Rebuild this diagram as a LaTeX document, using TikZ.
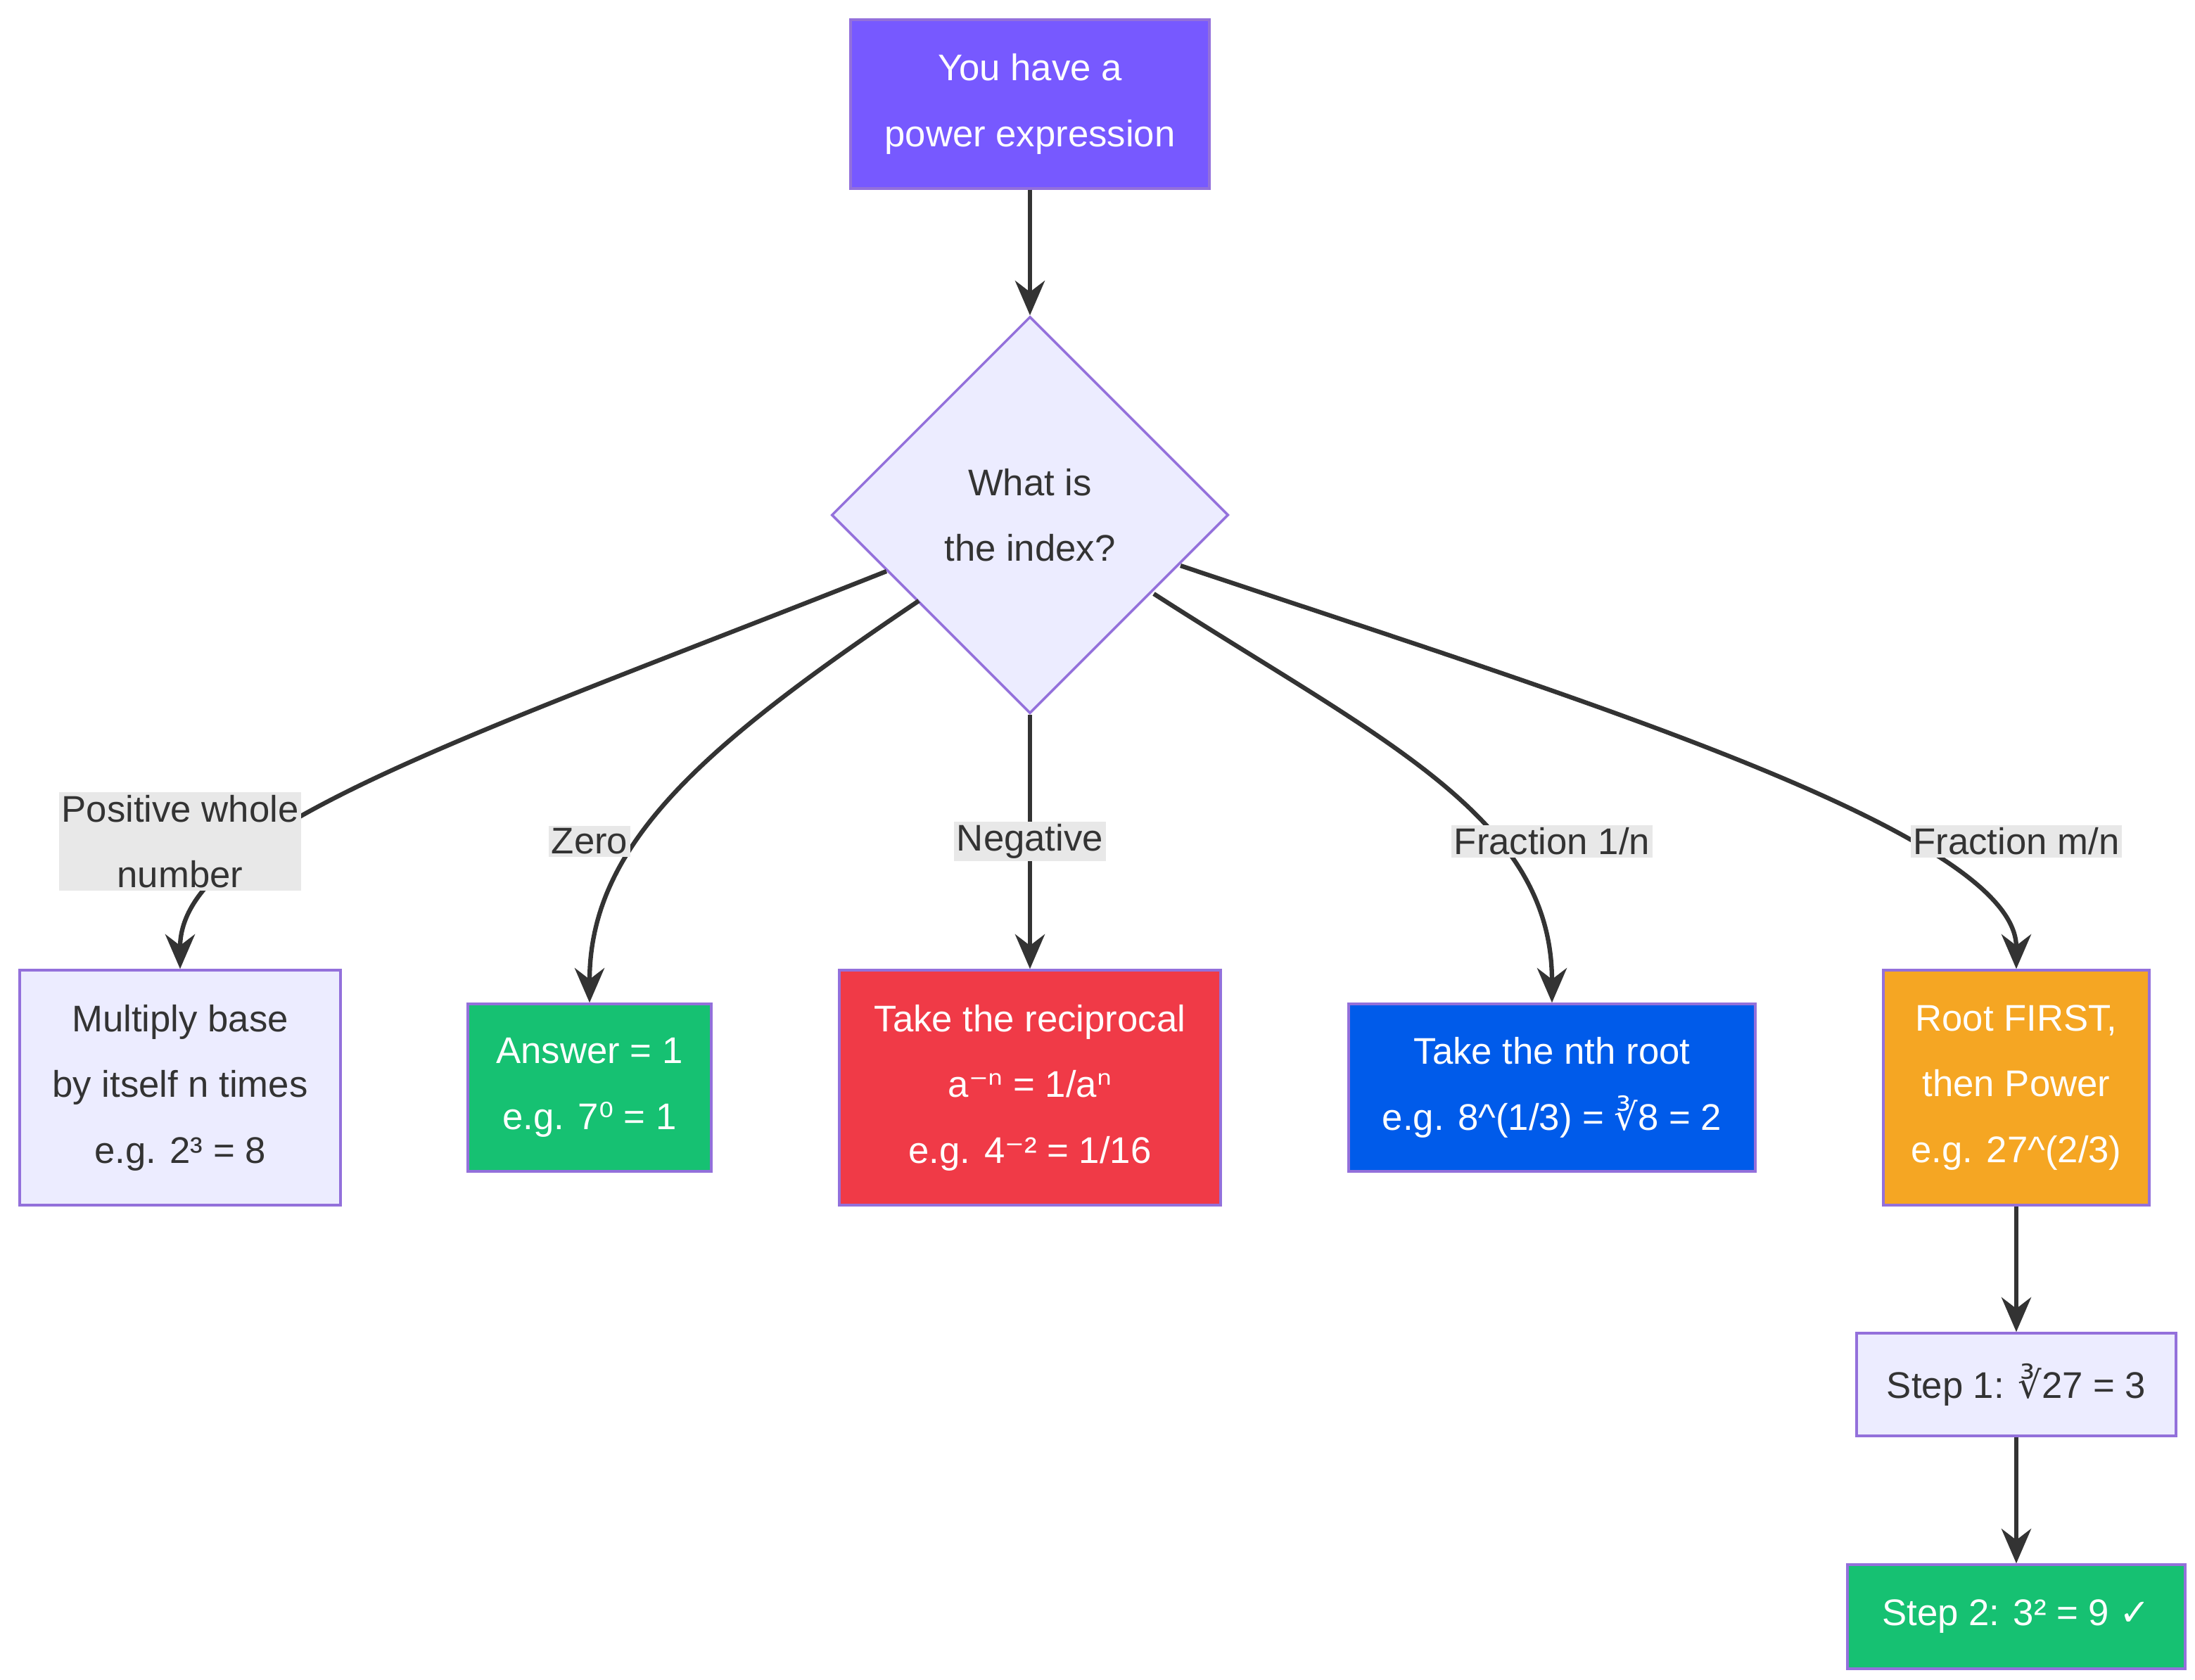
\documentclass[tikz,border=0pt]{standalone}
\usepackage{fontspec}
\setmainfont{Liberation Sans}
\newfontfamily\symf{DejaVu Sans}
\usetikzlibrary{shapes.geometric, arrows.meta}
\definecolor{ink}{HTML}{333333}
\definecolor{edge}{HTML}{9370DB}
\definecolor{pale}{HTML}{ECECFF}
\definecolor{violet}{HTML}{7759FF}
\definecolor{okgreen}{HTML}{16C172}
\definecolor{warnred}{HTML}{F03A47}
\definecolor{deepblue}{HTML}{005BEA}
\definecolor{amber}{HTML}{F5A623}
\newcommand{\sy}[1]{{\symf #1}}
\tikzset
    { box/.style =
        { draw=edge, line width=1pt, align=center, inner sep=0pt
        , font=\fontsize{15pt}{26.6pt}\selectfont, text=ink, fill=pale
        }
    , solid box/.style = {box, fill=#1, text=white}
    , size/.style 2 args = {minimum width=#1*0.02cm, minimum height=#2*0.02cm}
    , flow/.style = {draw=ink, line width=1.8pt, -{Stealth[length=14pt,width=12pt]}}
    , tag/.style =
        { fill=black!9, text=ink, align=center, inner sep=1pt
        , font=\fontsize{15pt}{26.6pt}\selectfont
        }
    }
\begin{document}
\begin{tikzpicture}[x=0.02cm, y=-0.02cm]

            \useasboundingbox (0, 0) rectangle (1560, 1194);

            \node[solid box=violet, size={255}{120}] (start) at (732, 74) {You have a\\power expression};
            \node[box, diamond, size={282}{282}] (index) at (732, 366) {What is\\the index?};

            \node[box, size={228}{167}] (whole) at (128, 773) {Multiply base\\by itself n times\\e.g. 2³ = 8};
            \node[solid box=okgreen, size={173}{119}] (zero) at (419, 773) {Answer = 1\\e.g. 7\sy{⁰} = 1};
            \node[solid box=warnred, size={271}{167}] (recip) at (732, 773) {Take the reciprocal\\a\sy{⁻ⁿ} = 1/a\sy{ⁿ}\\e.g. 4\sy{⁻}² = 1/16};
            \node[solid box=deepblue, size={289}{119}] (nroot) at (1103, 773) {Take the nth root\\e.g. 8\^{}(1/3) = \sy{∛}8 = 2};
            \node[solid box=amber, size={189}{167}] (rootpow) at (1433, 773) {Root FIRST,\\then Power\\e.g. 27\^{}(2/3)};
            \node[box, size={227}{73}] (stepa) at (1433, 984) {Step 1: \sy{∛}27 = 3};
            \node[solid box=okgreen, size={240}{74}] (stepb) at (1433, 1149) {Step 2: 3² = 9 \sy{✓}};

            \draw[flow] (start) -- (index);
            \coordinate (p1) at (630, 406);
            \coordinate (p2) at (653, 427);
            \coordinate (p4) at (820, 422);
            \coordinate (p5) at (839, 402);
            \draw[flow] (p1) .. controls (330, 525) and (128, 590) .. (whole.north);
            \draw[flow] (p2) .. controls (500, 530) and (419, 600) .. (zero.north);
            \draw[flow] (index.south) -- (recip.north);
            \draw[flow] (p4) .. controls (980, 525) and (1103, 580) .. (nroot.north);
            \draw[flow] (p5) .. controls (1100, 490) and (1433, 590) .. (rootpow.north);
            \draw[flow] (rootpow) -- (stepa);
            \draw[flow] (stepa) -- (stepb);

            \node[tag] (lwhole) at (128, 598) {Positive whole\\number};
            \node[tag] (lzero) at (419, 598) {Zero};
            \node[tag] (lneg) at (732, 598) {Negative};
            \node[tag] (lone) at (1103, 598) {Fraction 1/n};
            \node[tag] (lmn) at (1433, 598) {Fraction m/n};

        \end{tikzpicture}
\end{document}
